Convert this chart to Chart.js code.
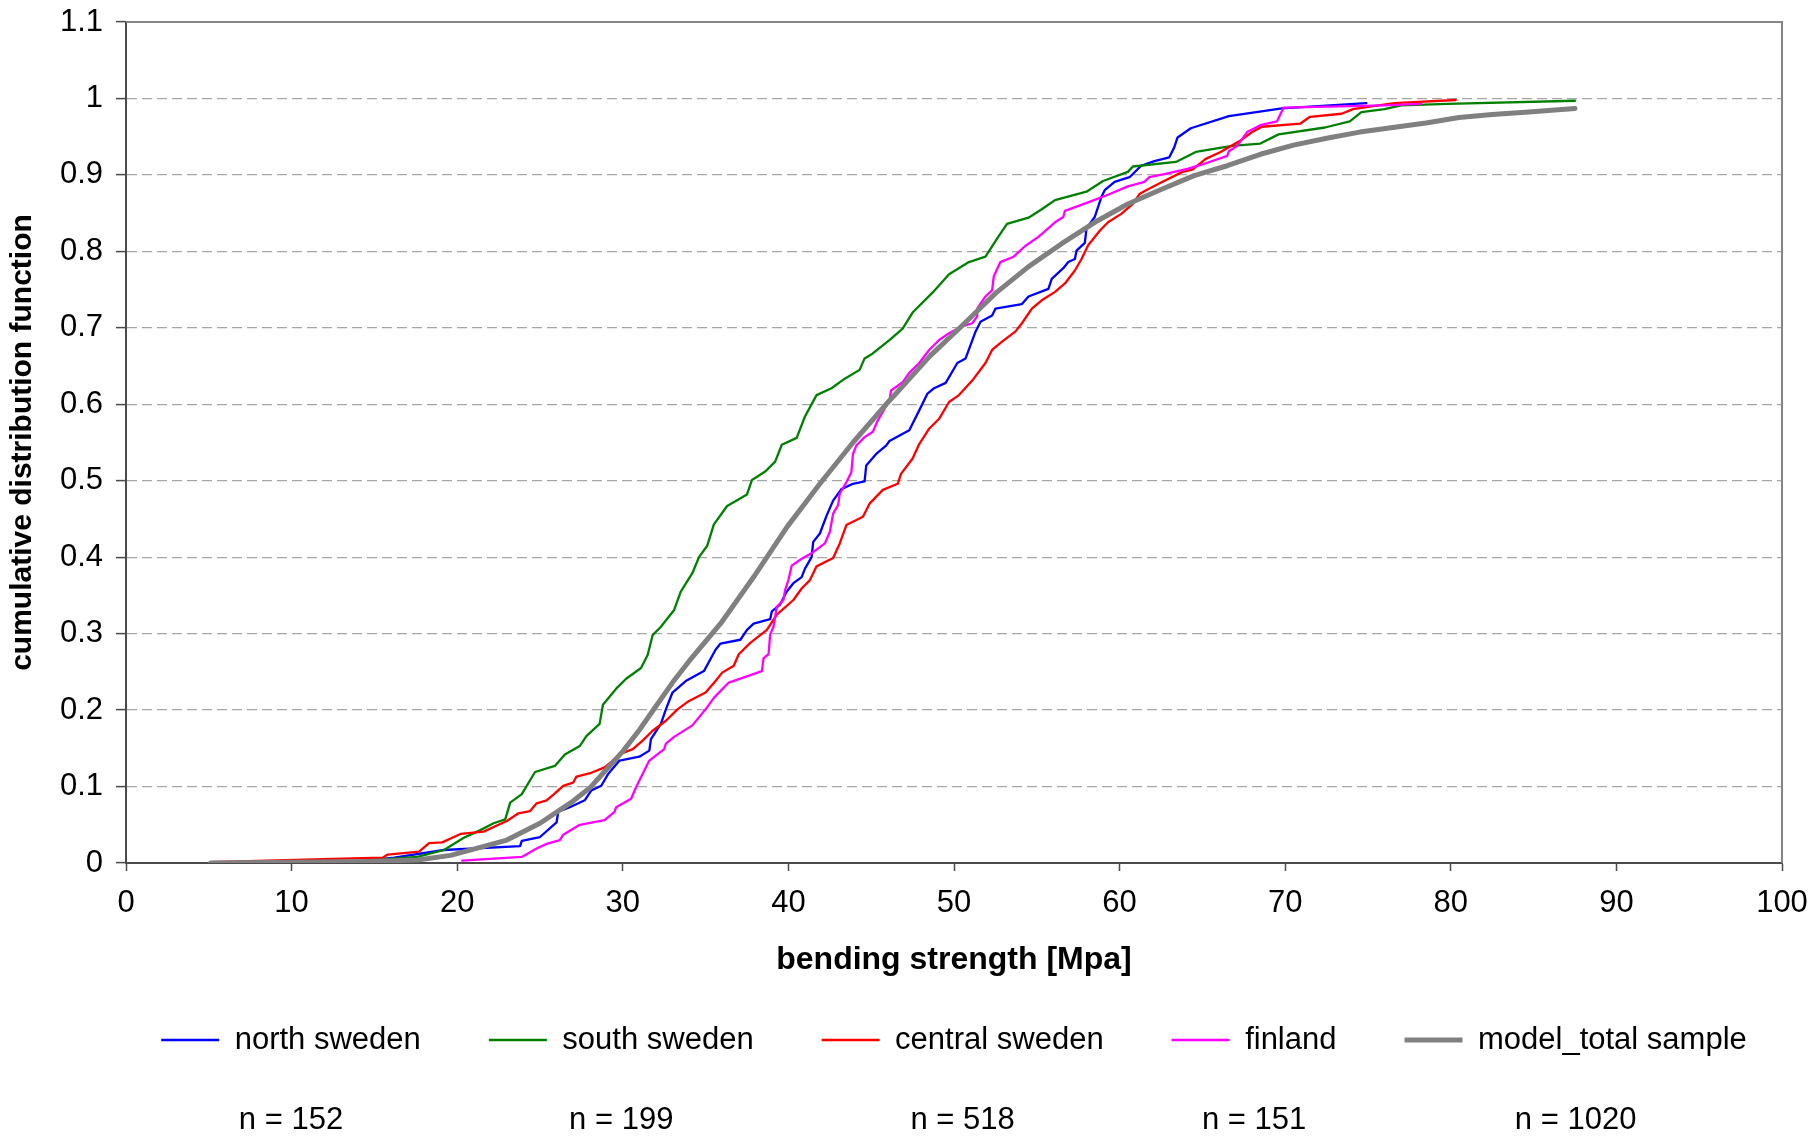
<!DOCTYPE html>
<html>
<head>
<meta charset="utf-8">
<script src="https://cdn.jsdelivr.net/npm/chart.js@4.4.1/dist/chart.umd.min.js"></script>
<style>
  body { margin: 0; background: #fff; }
  #wrap { width: 1817px; height: 1139px; position: relative; }
</style>
</head>
<body>
<div id="wrap"><canvas id="myChart"></canvas></div>
<script>
// series: bending strength [Mpa] vs. cumulative share
var seriesNames = ["north sweden", "south sweden", "central sweden", "finland", "model_total sample"];
var nCounts = [152, 199, 518, 151, 1020];

var northX = [14.5,16.2,19.2,23.8,23.9,25.0,26.0,26.1,26.8,27.7,28.1,28.7,29.1,29.8,31.0,31.6,31.7,32.3,32.6,33.0,33.8,34.9,35.6,35.9,37.1,37.5,37.9,38.9,39.0,39.5,39.9,40.3,40.8,41.0,41.4,41.5,41.9,42.3,42.7,43.2,43.9,44.6,44.7,45.3,45.9,46.1,47.3,47.9,48.4,48.8,49.5,50.2,50.7,51.3,51.6,52.3,52.5,54.1,54.5,55.7,55.9,56.6,56.9,57.3,57.4,57.9,58.0,58.5,58.9,59.1,59.7,60.6,61.3,62.1,63.0,63.3,63.5,64.3,66.6,69.8,74.9];
var northY = [0.003,0.007,0.017,0.022,0.029,0.034,0.053,0.067,0.073,0.082,0.095,0.101,0.116,0.134,0.139,0.147,0.162,0.182,0.201,0.223,0.238,0.251,0.279,0.287,0.292,0.305,0.313,0.319,0.329,0.338,0.355,0.366,0.374,0.385,0.400,0.420,0.431,0.454,0.474,0.489,0.496,0.499,0.520,0.535,0.546,0.552,0.566,0.592,0.614,0.621,0.628,0.654,0.660,0.695,0.708,0.716,0.725,0.731,0.741,0.751,0.764,0.778,0.786,0.790,0.801,0.811,0.830,0.845,0.871,0.880,0.891,0.897,0.912,0.918,0.923,0.936,0.949,0.961,0.977,0.987,0.994];

var southX = [13.8,17.6,19.2,20.4,21.4,22.2,22.9,23.2,23.9,24.7,25.9,26.5,27.4,27.8,28.6,28.8,29.6,30.2,31.1,31.5,31.8,32.3,33.1,33.5,34.2,34.6,35.1,35.5,36.3,37.5,37.8,38.6,39.2,39.6,40.5,41.0,41.7,42.6,43.3,44.3,44.6,45.0,46.1,46.9,47.5,48.7,49.7,50.9,51.9,52.7,53.2,54.5,55.3,56.1,58.0,59.0,60.5,60.8,63.4,64.6,66.8,68.5,69.6,72.4,73.9,74.6,76.0,77.0,79.8,87.5];
var southY = [0.002,0.008,0.017,0.033,0.043,0.052,0.057,0.079,0.090,0.119,0.127,0.142,0.153,0.166,0.182,0.207,0.228,0.241,0.255,0.272,0.298,0.309,0.331,0.355,0.379,0.400,0.415,0.443,0.467,0.482,0.501,0.512,0.525,0.547,0.556,0.584,0.612,0.621,0.632,0.645,0.660,0.665,0.684,0.699,0.720,0.746,0.770,0.786,0.793,0.820,0.836,0.844,0.855,0.867,0.878,0.892,0.904,0.911,0.917,0.930,0.938,0.941,0.953,0.962,0.970,0.982,0.986,0.991,0.993,0.997];

var centralX = [5.1,11.9,15.5,15.8,17.7,18.3,19.1,19.6,20.2,21.6,22.3,23.0,23.7,24.4,24.8,25.4,25.9,26.4,27.0,27.2,28.1,28.9,29.4,29.9,30.6,31.2,31.8,32.6,33.3,34.0,35.0,35.6,36.0,36.7,37.0,37.7,38.7,39.3,40.3,40.8,41.3,41.7,42.7,43.1,43.5,44.5,44.9,45.7,46.6,46.8,47.5,47.9,48.5,49.1,49.7,50.3,51.1,51.9,52.3,52.9,53.7,54.1,54.7,55.3,56.1,56.7,57.3,57.7,58.1,58.8,59.3,60.1,60.8,61.2,61.6,62.6,63.8,64.4,65.2,66.1,67.3,68.0,68.6,70.9,71.5,73.4,74.1,75.0,76.6,80.3];
var centralY = [0.001,0.005,0.007,0.011,0.015,0.026,0.027,0.032,0.038,0.041,0.048,0.055,0.065,0.068,0.078,0.082,0.091,0.101,0.105,0.113,0.118,0.125,0.134,0.143,0.149,0.160,0.173,0.186,0.201,0.212,0.223,0.238,0.249,0.258,0.273,0.288,0.305,0.325,0.344,0.359,0.370,0.388,0.399,0.418,0.442,0.453,0.470,0.488,0.496,0.509,0.529,0.548,0.568,0.581,0.603,0.612,0.631,0.654,0.671,0.682,0.695,0.706,0.725,0.736,0.747,0.758,0.775,0.790,0.808,0.827,0.838,0.849,0.862,0.875,0.880,0.891,0.904,0.907,0.921,0.930,0.945,0.956,0.963,0.967,0.976,0.980,0.986,0.989,0.994,0.998];

var finlandX = [20.3,23.9,24.8,25.4,26.2,26.4,27.4,28.9,29.5,29.6,30.5,30.8,31.6,32.5,32.6,33.1,34.2,35.0,35.5,36.4,38.4,38.5,38.8,38.9,39.1,39.3,39.7,39.8,40.0,40.2,40.8,41.4,42.2,42.5,42.7,43.0,43.1,43.5,43.8,43.9,44.1,44.6,45.1,45.4,45.7,46.1,46.2,46.9,47.3,47.9,48.5,49.1,49.7,50.5,51.1,51.4,51.4,51.9,52.3,52.4,52.8,53.6,54.3,55.1,56.1,56.6,56.7,58.1,59.3,60.5,61.5,61.8,62.7,64.1,64.9,66.5,66.6,67.1,67.7,68.5,69.5,69.9,76.0,78.2];
var finlandY = [0.003,0.008,0.019,0.025,0.030,0.037,0.050,0.056,0.067,0.073,0.084,0.099,0.134,0.149,0.156,0.165,0.180,0.201,0.216,0.236,0.251,0.268,0.273,0.299,0.309,0.335,0.344,0.357,0.370,0.389,0.398,0.405,0.418,0.433,0.457,0.468,0.483,0.498,0.511,0.535,0.546,0.557,0.564,0.579,0.590,0.605,0.618,0.629,0.641,0.654,0.671,0.684,0.693,0.702,0.706,0.715,0.725,0.741,0.749,0.767,0.786,0.793,0.807,0.819,0.838,0.845,0.853,0.864,0.874,0.885,0.891,0.897,0.901,0.908,0.913,0.925,0.931,0.938,0.956,0.965,0.970,0.988,0.991,0.993];

var modelX = [5.1,14.6,17.6,19.6,21.5,23.0,25.0,27.0,28.0,29.0,30.0,31.0,32.0,33.0,34.0,35.0,35.9,37.9,39.9,41.9,43.9,45.9,46.5,48.5,50.5,52.5,54.5,56.5,58.5,60.5,62.5,64.5,66.5,68.5,70.5,72.5,74.5,76.5,78.5,80.5,82.5,84.5,87.5];
var modelY = [0.000,0.002,0.004,0.010,0.021,0.030,0.052,0.081,0.098,0.122,0.146,0.174,0.205,0.236,0.264,0.290,0.313,0.374,0.439,0.496,0.550,0.600,0.614,0.662,0.703,0.745,0.780,0.810,0.838,0.862,0.881,0.899,0.912,0.927,0.939,0.948,0.956,0.962,0.968,0.975,0.979,0.982,0.987];

var xTicks = [0, 10, 20, 30, 40, 50, 60, 70, 80, 90, 100];
var yTicks = [0, 0.1, 0.2, 0.3, 0.4, 0.5, 0.6, 0.7, 0.8, 0.9, 1, 1.1];

function puntos(xs, ys) {
    return xs.map(function (x, i) { return { x: x, y: ys[i] }; });
}

var fuente = "'Liberation Sans', Arial, sans-serif";
var ejeColor = "#4a4a4a";

// frame on top and right of the plot area
var marco = {
    id: "marco",
    beforeDatasetsDraw: function (chart) {
        var a = chart.chartArea, ctx = chart.ctx;
        ctx.save();
        ctx.strokeStyle = "#858585";
        ctx.lineWidth = 2;
        ctx.beginPath();
        ctx.moveTo(a.left, a.top);
        ctx.lineTo(a.right, a.top);
        ctx.lineTo(a.right, a.bottom);
        ctx.stroke();
        ctx.restore();
    }
};

// legend centred under the plot area, sample sizes under each entry
var muestras = {
    id: "muestras",
    afterLayout: function (chart) {
        var leg = chart.legend, a = chart.chartArea;
        if (!leg) return;
        var d = (a.left + a.right) / 2 - (leg.left + leg.right) / 2;
        leg.left += d;
        leg.right += d;
    },
    afterDraw: function (chart) {
        var leg = chart.legend, ctx = chart.ctx;
        if (!leg || !leg.legendHitBoxes) return;
        ctx.save();
        ctx.font = "31px " + fuente;
        ctx.fillStyle = "#000";
        ctx.textAlign = "center";
        ctx.textBaseline = "middle";
        leg.legendHitBoxes.forEach(function (b, i) {
            var idx = leg.legendItems[i].datasetIndex;
            ctx.fillText("n = " + nCounts[idx], b.left + b.width / 2, leg.bottom + 55);
        });
        ctx.restore();
    }
};

var ctx = document.getElementById("myChart").getContext("2d");

var chart = new Chart(ctx, {
    type: "line",
    data: {
        datasets: [
            { label: seriesNames[0], data: puntos(northX, northY), borderColor: "#0000ff", borderWidth: 2.3, order: 5 },
            { label: seriesNames[1], data: puntos(southX, southY), borderColor: "#008000", borderWidth: 2.3, order: 4 },
            { label: seriesNames[2], data: puntos(centralX, centralY), borderColor: "#ff0000", borderWidth: 2.3, order: 3 },
            { label: seriesNames[3], data: puntos(finlandX, finlandY), borderColor: "#ff00ff", borderWidth: 2.3, order: 2 },
            { label: seriesNames[4], data: puntos(modelX, modelY), borderColor: "#808080", borderWidth: 5, order: 1 }
        ]
    },
    options: {
        animation: false,
        responsive: true,
        maintainAspectRatio: false,
        parsing: false,
        elements: {
            point: { radius: 0 },
            line: { tension: 0, fill: false, borderJoinStyle: "round", borderCapStyle: "round" }
        },
        layout: { padding: { left: 0, top: 22, right: 35, bottom: 73.5 } },
        scales: {
            x: {
                type: "linear",
                min: 0,
                max: 100,
                afterBuildTicks: function (s) { s.ticks = xTicks.map(function (v) { return { value: v }; }); },
                afterFit: function (s) { s.height = 93.5; s.paddingLeft = 0; s.paddingRight = 0; },
                ticks: {
                    color: "#000",
                    font: { family: fuente, size: 31 },
                    padding: 14,
                    maxRotation: 0,
                    callback: function (v) { return String(v); }
                },
                grid: { drawOnChartArea: false, tickLength: 8, tickColor: ejeColor, tickWidth: 1.5 },
                border: { color: ejeColor, width: 2 },
                title: {
                    display: true,
                    text: "bending strength [Mpa]",
                    color: "#000",
                    font: { family: fuente, size: 32, weight: "bold" },
                    padding: { top: 0, bottom: -22.7 }
                }
            },
            y: {
                type: "linear",
                min: 0,
                max: 1.1,
                afterBuildTicks: function (s) { s.ticks = yTicks.map(function (v) { return { value: v }; }); },
                afterFit: function (s) { s.width = 126; s.paddingTop = 0; s.paddingBottom = 0; },
                ticks: {
                    color: "#000",
                    font: { family: fuente, size: 31 },
                    padding: 13,
                    callback: function (v) { return String(+v.toFixed(1)); }
                },
                grid: {
                    color: function (c) { return (c.tick && (c.tick.value === 0 || c.tick.value > 1.05)) ? "rgba(0,0,0,0)" : "#a6a6a6"; },
                    lineWidth: 1.2,
                    tickLength: 10,
                    tickColor: ejeColor,
                    tickWidth: 1.5
                },
                border: { color: ejeColor, width: 2, dash: [10, 5] },
                title: {
                    display: true,
                    text: "cumulative distribution function",
                    color: "#000",
                    font: { family: fuente, size: 30, weight: "bold" },
                    padding: { top: 5, bottom: 0 }
                }
            }
        },
        plugins: {
            legend: {
                position: "bottom",
                labels: {
                    color: "#000",
                    font: { family: fuente, size: 31 },
                    usePointStyle: true,
                    pointStyle: "line",
                    pointStyleWidth: 58,
                    padding: 68,
                    sort: function (a, b) { return a.datasetIndex - b.datasetIndex; }
                }
            },
            tooltip: { enabled: false }
        }
    },
    plugins: [marco, muestras]
});
</script>
</body>
</html>
